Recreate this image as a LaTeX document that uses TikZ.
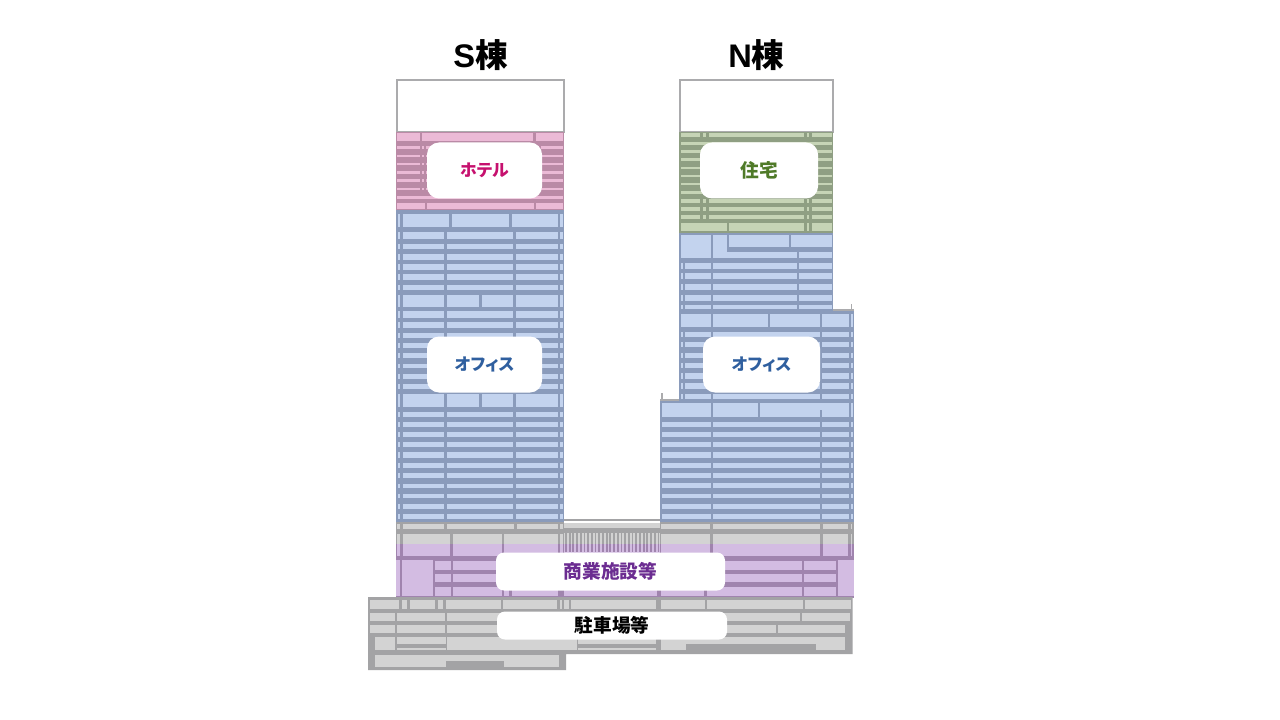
\documentclass[tikz,border=0pt]{standalone}
\usepackage{fontspec}
\setmainfont{Liberation Sans}
\newfontfamily\jp[RawFeature=+palt]{Noto Sans CJK JP}
\definecolor{pinkD}{HTML}{BA8AA6}\definecolor{pinkL}{HTML}{EBBAD6}
\definecolor{greenD}{HTML}{8F9F83}\definecolor{greenL}{HTML}{C6D4B6}
\definecolor{blueD}{HTML}{8A9BBB}\definecolor{blueL}{HTML}{C3D3EE}
\definecolor{grayD}{HTML}{A3A3A5}\definecolor{grayL}{HTML}{D3D3D3}
\definecolor{purpD}{HTML}{A084AE}\definecolor{purpL}{HTML}{D3BCE2}
\definecolor{edgeC}{HTML}{ABABAD}
\definecolor{hotelC}{HTML}{C6106E}\definecolor{homeC}{HTML}{4F7A28}
\definecolor{officeC}{HTML}{2F5F9F}\definecolor{shopC}{HTML}{6B2C91}
\newcommand{\strips}[3]{\foreach \xa/\xb in {#2}{\foreach \ya/\yb in {#3}{\fill[#1] ({\xa+0.3},{\ya+0.25}) rectangle ({\xb-0.3},{\yb-0.25});}}}
\tikzset{
  tag/.style={fill=white,rounded corners=#1,inner sep=0pt,font=\jp\bfseries\fontsize{14pt}{16pt}\selectfont},
  kana/.style={font=\jp\bfseries\fontsize{12.6pt}{16pt}\selectfont},
  title/.style={inner sep=0pt,font=\bfseries\fontsize{24.5pt}{28pt}\selectfont,text=black},
  roof/.style={draw=edgeC,line width=1.5pt,fill=white}
}
\begin{document}
\begin{tikzpicture}[x=0.75pt,y=-0.75pt]
\useasboundingbox (0,0) rectangle (1280,720);
\fill[white] (0,0) rectangle (1280,720);
% roofs
\draw[roof] (396.5,80) rectangle (563.5,132);
\draw[roof] (680,80) rectangle (832.5,132);
% S hotel
\fill[pinkD] (396,132) rectangle (564,210);
\strips{pinkL}{397/420,422/533.5,535.5/563}{133/141}
\strips{pinkL}{397/420,422/424,426/533.5,535.5/539,541/563}{146/149,154.3/157.3,162.6/165.6,170.9/173.9,179.2/182.2,187.5/190.5}
\strips{pinkL}{397/563}{195.5/199}
\strips{pinkL}{397/425,427/534,536/563}{203/209}
% S office
\fill[blueD] (396,210) rectangle (564,523);
\strips{blueL}{397.3/400.7,402.3/449.5,451.2/509.5,511.2/558.3,560/563}{214/227}
\strips{blueL}{397.3/400.7,402.3/444.3,446.3/513.7,515.7/558.3,560/563}{232/239,244/249.5,254/260,264/270,274/280,285/290,311/318,322/328,333/338,343/348,353/358,364/368,374/379,384/389,412/417,422/427,432/437,442/447,452/458,463/468,473/478,484/488,494/498,504/509,514/519}
\strips{blueL}{397.3/400.7,402.3/444.3,446.3/479.7,481.5/513.7,515.7/558.3,560/563}{295/307,394/407}
% N residence
\fill[greenD] (679,132) rectangle (833,233);
\strips{greenL}{681/700.5,702.5/706.5,708.5/804.5,806.5/809.5,811.5/832}{133/137,199/203,207/211,215/219}
\strips{greenL}{681/832}{142/145,150/153,158/161,167/169,175/177,183/185,191/194}
\strips{greenL}{681/727.5,729/804.5,806.5/809.5,811.5/832}{223/231}
% N office upper
\fill[blueD] (679,233) rectangle (833,313);
\strips{blueL}{681/711,713/727}{235/258}
\strips{blueL}{729/789,791/832}{235/247}
\strips{blueL}{726.5/797,799/832}{252/258}
\strips{blueL}{681/683,685/711,713/797,799/832}{263/269,273/279,284/290,295/301,305/309}
% N office middle
\fill[blueD] (679,310) rectangle (854,403);
\fill[edgeC] (833,309) rectangle (854,311);
\fill[edgeC] (850.5,304) rectangle (852,311);
\strips{blueL}{681/711,713/768,769.5/820,822/849,850.5/853}{314/327}
\strips{blueL}{681/683,685/711,713/820,822/849,850.5/853}{332/337,342/347,353/358,363/368,373/379,383/389,394/399}
% N office lower
\fill[blueD] (660,401) rectangle (854,523);
\fill[edgeC] (660,399) rectangle (679,401);
\fill[edgeC] (661,393) rectangle (662.5,401);
\strips{blueL}{661.5/711,713/758,760/849,850.5/853}{403/417}
\fill[blueD] (820.3,410) rectangle (821.8,417);
\strips{blueL}{661.5/711,713/820,822/849,851/853}{422/427,432/437,442/447,452/458,463/468,473/478,483/488,494/498,504/509,514/519}
% podium
\fill[grayD] (396,522) rectangle (564,544);
\fill[grayD] (660,522) rectangle (854,544);
\fill[grayD] (564,519) rectangle (660,521);
\fill[grayL] (564,522.5) rectangle (660,528);
\fill[grayD] (564,528) rectangle (660,533);
\fill[grayL] (564,533) rectangle (660,544);
\fill[purpL] (564,544) rectangle (660,556);
\foreach \i in {0,...,25} {\fill[grayD] ({565+3.7*\i},532) rectangle ({566.8+3.7*\i},544);\fill[purpD] ({565+3.7*\i},544) rectangle ({566.8+3.7*\i},551.5);}
\fill[purpD] (396,544) rectangle (564,560);
\fill[purpD] (660,544) rectangle (854,560);
\fill[purpD] (564,556) rectangle (660,560);
\strips{grayL}{397/400.7,402.7/444.7,446.7/514.7,516.5/558,560/563,661/710.7,712.7/820.7,822.7/848.7,850.7/852.7}{524/529}
\strips{grayL}{397/400.7,402.7/450.7,452.7/502,503.3/558.7,560/563,661/710.7,712.7/820.7,822.7/848.7,850.7/852.7}{534/544.3}
\strips{purpL}{397/400.7,402.7/450.7,452.7/502,503.3/558.7,560/563,661/710.7,712.7/820.7,822.7/848.7,850.7/852.7}{543.7/556}
% commercial
\fill[purpD] (396,560) rectangle (854,598);
\strips{purpL}{396/400,402/433,837.3/854}{560/596}
\strips{purpL}{435/451,453/802.7,804/836}{561/570,574/582}
\strips{purpL}{435/451,453/502,504/509,512/558.7,564/657,660.7/704.7,706.7/802.7,804/836}{587/596}
% parking
\fill[grayD] (368,597) -- (852.7,597) -- (852.7,654) -- (566,654) -- (566,670) -- (368,670) -- cycle;
\strips{grayL}{370/399,402/407,410/435,438/443,446/501,503/557,559.5/562,564/569,571/656.7,661/705,707/803,805/851}{600/609}
\strips{grayL}{370/395,397/445,447/800,802/850}{613/621}
\strips{grayL}{370/395,397/445,447/776,778/845}{625/633}
\strips{grayL}{375/395}{637/650}
\strips{grayL}{397/446,578/656}{637/644,647.5/650.5}
\strips{grayL}{447/577,661/845}{637/650}
\fill[grayD] (686,644) rectangle (816,654);
\strips{grayL}{375/559}{655/667}
\fill[grayD] (446,661) rectangle (504,667);
% labels
\node[tag=9pt,kana,minimum width=115*0.75pt,minimum height=56*0.75pt,text=hotelC] (hotel) at (484.5,170.5) {ホテル};
\node[tag=9pt,minimum width=118*0.75pt,minimum height=56*0.75pt,text=homeC] (home) at (759,170.5) {住宅};
\node[tag=9pt,kana,minimum width=115*0.75pt,minimum height=56*0.75pt,text=officeC] (officeS) at (484.5,364.5) {オフィス};
\node[tag=9pt,kana,minimum width=117*0.75pt,minimum height=56*0.75pt,text=officeC] (officeN) at (761.5,364.5) {オフィス};
\node[tag=6pt,minimum width=229*0.75pt,minimum height=38*0.75pt,text=shopC] (shop) at (610.5,571.5) {商業施設等};
\node[tag=6pt,minimum width=230*0.75pt,minimum height=28*0.75pt,text=black] (parking) at (612,625.5) {駐車場等};
\node[title] (titleS) at (480.5,55) {S{\jp 棟}};
\node[title] (titleN) at (756.5,55) {N{\jp 棟}};
\end{tikzpicture}
\end{document}
